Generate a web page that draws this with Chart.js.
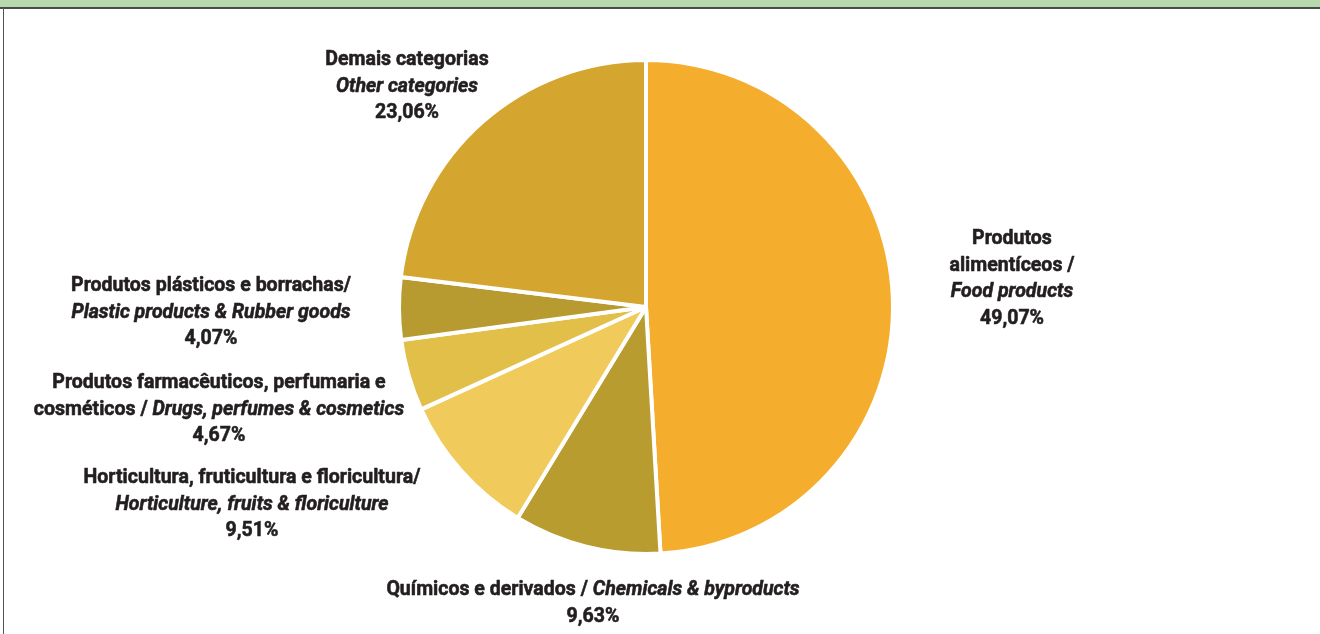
<!DOCTYPE html>
<html>
<head>
<meta charset="utf-8">
<script src="https://cdn.jsdelivr.net/npm/chart.js@4.4.1/dist/chart.umd.min.js"></script>
<style>
  html, body { margin: 0; padding: 0; background: #fff; }
  #wrap { position: relative; width: 1320px; height: 634px; overflow: hidden; }
  #topo { position: absolute; left: 0; top: 0; width: 1320px; height: 7px; background: #b8d9ad; border-bottom: 2px solid #4a4a4a; }
  #borda { position: absolute; left: 3px; top: 8px; width: 1px; height: 626px; background: #555; }
  canvas { position: absolute; left: 0; top: 0; }
</style>
</head>
<body>
<div id="wrap">
  <div id="topo"></div>
  <div id="borda"></div>
  <canvas id="grafico" width="1320" height="634"></canvas>
</div>
<script>
// dados
const categorias = [
    'Produtos alimentíceos / Food products',
    'Químicos e derivados / Chemicals & byproducts',
    'Horticultura, fruticultura e floricultura / Horticulture, fruits & floriculture',
    'Produtos farmacêuticos, perfumaria e cosméticos / Drugs, perfumes & cosmetics',
    'Produtos plásticos e borrachas / Plastic products & Rubber goods',
    'Demais categorias / Other categories'
];
const valores = [49.07, 9.63, 9.51, 4.67, 4.07, 23.06];
const cores = ['#f5ad2e', '#b89c2f', '#f0cb5c', '#e2bf48', '#b79a30', '#d4a52f'];

// linhas do rótulo: [texto, itálico]
const rotulos = [
    [[['Produtos', false]], [['alimentíceos /', false]], [['Food products', true]]],
    [[['Químicos e derivados / ', false], ['Chemicals & byproducts', true]]],
    [[['Horticultura, fruticultura e floricultura/', false]], [['Horticulture, fruits & floriculture', true]]],
    [[['Produtos farmacêuticos, perfumaria e', false]], [['cosméticos / ', false], ['Drugs, perfumes & cosmetics', true]]],
    [[['Produtos plásticos e borrachas/', false]], [['Plastic products & Rubber goods', true]]],
    [[['Demais categorias', false]], [['Other categories', true]]]
];
// centro (x) e linha de base da primeira linha de cada rótulo
const posRotulos = [[1012, 244], [593, 595], [252, 483], [219, 388], [211, 291], [407, 65]];

const formatarPct = v => v.toFixed(2).replace('.', ',') + '%';

const pluginRotulos = {
    id: 'rotulos',
    afterDraw(chart) {
        const ctx = chart.ctx;
        const escala = 0.93;
        const passo = 26.5;
        ctx.save();
        ctx.fillStyle = '#231f20';
        ctx.strokeStyle = '#231f20';
        ctx.lineWidth = 0.6;
        ctx.lineJoin = 'round';
        ctx.textBaseline = 'alphabetic';
        ctx.textAlign = 'left';
        valores.forEach((v, i) => {
            const linhas = rotulos[i].concat([[[formatarPct(v), false]]]);
            const [cx, y0] = posRotulos[i];
            linhas.forEach((runs, j) => {
                let total = 0;
                runs.forEach(([t, it]) => {
                    ctx.font = (it ? 'italic ' : '') + 'bold 21px Roboto';
                    total += ctx.measureText(t).width;
                });
                let x = -total / 2;
                ctx.save();
                ctx.translate(cx, y0 + j * passo);
                ctx.scale(escala, 1);
                runs.forEach(([t, it]) => {
                    ctx.font = (it ? 'italic ' : '') + 'bold 21px Roboto';
                    ctx.fillText(t, x, 0);
                    ctx.strokeText(t, x, 0);
                    x += ctx.measureText(t).width;
                });
                ctx.restore();
            });
        });
        ctx.restore();
    }
};

new Chart(document.getElementById('grafico'), {
    type: 'pie',
    data: {
        labels: categorias,
        datasets: [{
            data: valores,
            backgroundColor: cores,
            borderColor: '#ffffff',
            borderWidth: 4
        }]
    },
    options: {
        responsive: false,
        animation: false,
        layout: { padding: { top: 58, bottom: 78, left: 397, right: 425 } },
        plugins: {
            legend: { display: false },
            tooltip: { enabled: false }
        }
    },
    plugins: [pluginRotulos]
});
</script>
</body>
</html>
